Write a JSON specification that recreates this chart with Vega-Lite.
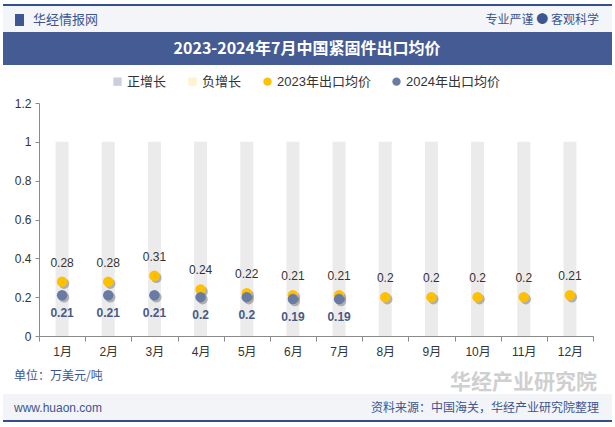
{
  "$schema": "https://vega.github.io/schema/vega-lite/v6.json",
  "autosize": "none",
  "width": 554,
  "height": 233,
  "padding": {"left": 39, "top": 103, "right": 22, "bottom": 91},
  "background": "white",
  "config": {
    "view": {"stroke": null},
    "font": "Liberation Sans, Noto Sans CJK SC",
    "axis": {"grid": false, "domainColor": "#8a8a8a", "tickColor": "#8a8a8a", "labelColor": "#333333", "labelFontSize": 12, "labelFont": "Liberation Sans, Noto Sans CJK SC"},
    "legend": {"labelFont": "Liberation Sans, Noto Sans CJK SC"}
  },
  "data": {"values": [
    {"month": "1月", "series": "2023年出口均价", "value": 0.28},
    {"month": "2月", "series": "2023年出口均价", "value": 0.28},
    {"month": "3月", "series": "2023年出口均价", "value": 0.31},
    {"month": "4月", "series": "2023年出口均价", "value": 0.24},
    {"month": "5月", "series": "2023年出口均价", "value": 0.22},
    {"month": "6月", "series": "2023年出口均价", "value": 0.21},
    {"month": "7月", "series": "2023年出口均价", "value": 0.21},
    {"month": "8月", "series": "2023年出口均价", "value": 0.2},
    {"month": "9月", "series": "2023年出口均价", "value": 0.2},
    {"month": "10月", "series": "2023年出口均价", "value": 0.2},
    {"month": "11月", "series": "2023年出口均价", "value": 0.2},
    {"month": "12月", "series": "2023年出口均价", "value": 0.21},
    {"month": "1月", "series": "2024年出口均价", "value": 0.21},
    {"month": "2月", "series": "2024年出口均价", "value": 0.21},
    {"month": "3月", "series": "2024年出口均价", "value": 0.21},
    {"month": "4月", "series": "2024年出口均价", "value": 0.2},
    {"month": "5月", "series": "2024年出口均价", "value": 0.2},
    {"month": "6月", "series": "2024年出口均价", "value": 0.19},
    {"month": "7月", "series": "2024年出口均价", "value": 0.19}
  ]},
  "layer": [
    {"data": {"values": [{}]}, "mark": {"type": "rect", "color": "#34508c"}, "encoding": {"x": {"value": -36}, "x2": {"value": 573}, "y": {"value": -99}, "y2": {"value": -97}}},
    {"data": {"values": [{}]}, "mark": {"type": "rect", "color": "#f4f5f9"}, "encoding": {"x": {"value": -36}, "x2": {"value": 573}, "y": {"value": -97}, "y2": {"value": -71}}},
    {"data": {"values": [{}]}, "mark": {"type": "rect", "color": "#455b93"}, "encoding": {"x": {"value": -36}, "x2": {"value": 573}, "y": {"value": -71}, "y2": {"value": -38}}},
    {"data": {"values": [{}]}, "mark": {"type": "rect", "color": "#f2f4f8"}, "encoding": {"x": {"value": -36}, "x2": {"value": 573}, "y": {"value": 291}, "y2": {"value": 317}}},
    {"data": {"values": [{}]}, "mark": {"type": "rect", "color": "#34508c"}, "encoding": {"x": {"value": -36}, "x2": {"value": 573}, "y": {"value": 317}, "y2": {"value": 319}}},
    {"data": {"values": [{}]}, "mark": {"type": "rect", "color": "#3d5590"}, "encoding": {"x": {"value": -24}, "x2": {"value": -15}, "y": {"value": -89}, "y2": {"value": -77}}},
    {"data": {"values": [{}]}, "mark": {"type": "text", "text": "华经情报网", "align": "left", "baseline": "middle", "fontSize": 13, "color": "#3d5590", "font": "Noto Sans CJK SC"}, "encoding": {"x": {"value": -6}, "y": {"value": -83}}},
    {"data": {"values": [{}]}, "mark": {"type": "text", "text": "专业严谨 ● 客观科学", "align": "right", "baseline": "middle", "fontSize": 12, "color": "#3d5590", "font": "Noto Sans CJK SC"}, "encoding": {"x": {"value": 560}, "y": {"value": -83}}},
    {"data": {"values": [{}]}, "mark": {"type": "text", "text": "2023-2024年7月中国紧固件出口均价", "align": "center", "baseline": "middle", "fontSize": 16, "fontWeight": "bold", "color": "white", "font": "Noto Sans CJK SC"}, "encoding": {"x": {"value": 268}, "y": {"value": -54}}},
    {"data": {"values": [{}]}, "mark": {"type": "text", "text": "华经产业研究院", "align": "right", "baseline": "middle", "fontSize": 21, "fontWeight": "bold", "color": "#cfcfcf", "font": "Noto Sans CJK SC"}, "encoding": {"x": {"value": 558}, "y": {"value": 280}}},
    {"data": {"values": [{}]}, "mark": {"type": "text", "text": "单位：万美元/吨", "align": "left", "baseline": "middle", "fontSize": 12, "color": "#3d5590", "font": "Noto Sans CJK SC"}, "encoding": {"x": {"value": -25}, "y": {"value": 273}}},
    {"data": {"values": [{}]}, "mark": {"type": "text", "text": "www.huaon.com", "align": "left", "baseline": "middle", "fontSize": 12, "color": "#3d5590", "font": "Liberation Sans"}, "encoding": {"x": {"value": -25}, "y": {"value": 305}}},
    {"data": {"values": [{}]}, "mark": {"type": "text", "text": "资料来源：中国海关，华经产业研究院整理", "align": "right", "baseline": "middle", "fontSize": 12, "color": "#3d5590", "font": "Noto Sans CJK SC"}, "encoding": {"x": {"value": 560}, "y": {"value": 305}}},
    {
      "transform": [{"filter": "datum.series == '2023年出口均价'"}],
      "mark": {"type": "bar", "size": 13, "color": "#ebebeb"},
      "encoding": {
        "x": {"field": "month", "type": "ordinal", "sort": null, "scale": {"type": "band", "paddingInner": 0, "paddingOuter": 0},
              "axis": {"title": null, "labelAngle": 0, "tickBand": "extent", "tickSize": 5, "labelPadding": 5, "labelOverlap": false}},
        "y": {"datum": 1, "type": "quantitative", "scale": {"domain": [0, 1.2], "nice": false},
              "axis": {"title": null, "values": [0, 0.2, 0.4, 0.6, 0.8, 1, 1.2], "tickCount": 7, "format": "~g", "tickSize": 4, "labelPadding": 4, "labelOverlap": false, "labelFlush": false}}
      }
    },
    {
      "mark": {"type": "point", "filled": true, "size": 110, "opacity": 0.4, "color": "#555555", "xOffset": 2, "yOffset": 2},
      "encoding": {
        "x": {"field": "month", "type": "ordinal", "sort": null},
        "y": {"field": "value", "type": "quantitative", "axis": {"title": null, "values": [0, 0.2, 0.4, 0.6, 0.8, 1, 1.2], "tickCount": 7, "format": "~g", "tickSize": 4, "labelPadding": 4, "labelOverlap": false, "labelFlush": false}}
      }
    },
    {
      "mark": {"type": "point", "filled": true, "size": 110, "opacity": 1},
      "encoding": {
        "x": {"field": "month", "type": "ordinal", "sort": null},
        "y": {"field": "value", "type": "quantitative", "axis": {"title": null, "values": [0, 0.2, 0.4, 0.6, 0.8, 1, 1.2], "tickCount": 7, "format": "~g", "tickSize": 4, "labelPadding": 4, "labelOverlap": false, "labelFlush": false}},
        "color": {"field": "series", "type": "nominal",
                  "scale": {"domain": ["正增长", "负增长", "2023年出口均价", "2024年出口均价"], "range": ["#c9cfdb", "#fff2cc", "#ffc000", "#6a7ba3"]},
                  "legend": {"title": null, "orient": "none", "direction": "horizontal", "legendX": 72, "legendY": -28, "labelFontSize": 13, "labelColor": "#333333", "symbolSize": 70, "columnPadding": 18, "labelOffset": 3, "symbolOpacity": 1}},
        "shape": {"field": "series", "type": "nominal",
                  "scale": {"domain": ["正增长", "负增长", "2023年出口均价", "2024年出口均价"], "range": ["square", "square", "circle", "circle"]},
                  "legend": {"title": null, "orient": "none", "direction": "horizontal", "legendX": 72, "legendY": -28, "labelFontSize": 13, "labelColor": "#333333", "symbolSize": 70, "columnPadding": 18, "labelOffset": 3}}
      }
    },
    {
      "transform": [{"filter": "datum.series == '2023年出口均价'"}],
      "mark": {"type": "text", "dy": -19, "fontSize": 12, "color": "#333333", "font": "Liberation Sans"},
      "encoding": {
        "x": {"field": "month", "type": "ordinal", "sort": null},
        "y": {"field": "value", "type": "quantitative"},
        "text": {"field": "value", "type": "quantitative", "format": "~g"}
      }
    },
    {
      "transform": [{"filter": "datum.series == '2024年出口均价'"}],
      "mark": {"type": "text", "dy": 18, "fontSize": 12, "fontWeight": "bold", "color": "#4a5a85", "font": "Liberation Sans"},
      "encoding": {
        "x": {"field": "month", "type": "ordinal", "sort": null},
        "y": {"field": "value", "type": "quantitative"},
        "text": {"field": "value", "type": "quantitative", "format": "~g"}
      }
    }
  ]
}
